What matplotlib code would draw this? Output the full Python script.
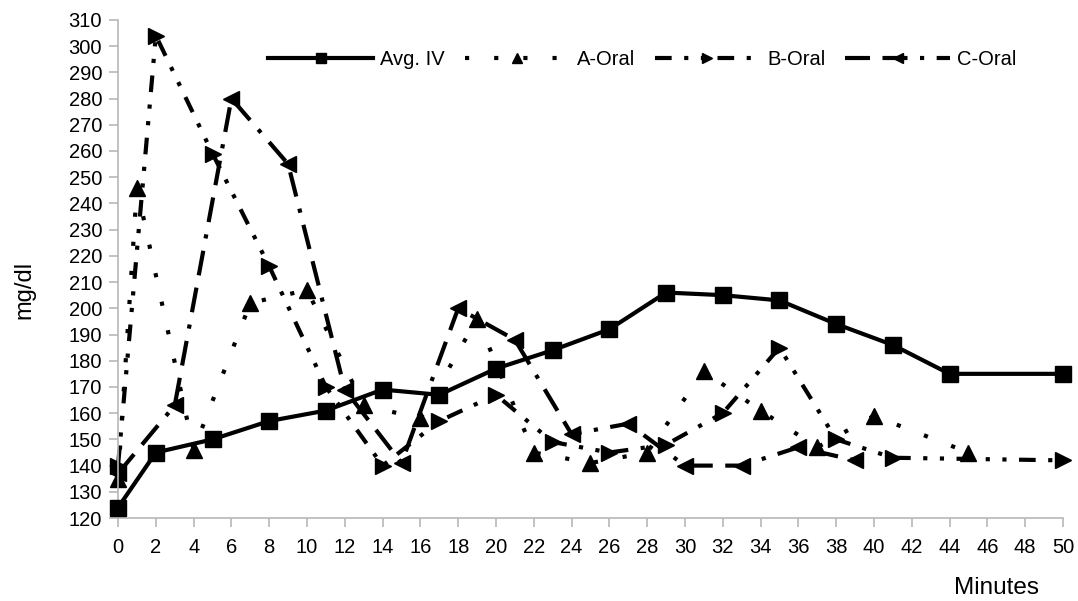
import matplotlib.pyplot as plt

plt.rcParams['font.family'] = ['Liberation Sans', 'DejaVu Sans']

ivMinutes = [0, 2, 5, 8, 11, 14, 17, 20, 23, 26, 29, 32, 35, 38, 41, 44, 50]
ivValues = [124, 145, 150, 157, 161, 169, 167, 177, 184, 192, 206, 205, 203, 194, 186, 175, 175]

aMinutes = [0, 1, 4, 7, 10, 13, 16, 19, 22, 25, 28, 31, 34, 37, 40, 45]
aValues = [135, 246, 146, 202, 207, 163, 158, 196, 145, 141, 145, 176, 161, 147, 159, 145]

bMinutes = [0, 2, 5, 8, 11, 14, 17, 20, 23, 26, 29, 32, 35, 38, 41, 50]
bValues = [140, 304, 259, 216, 170, 140, 157, 167, 149, 145, 148, 160, 185, 150, 143, 142]

cMinutes = [0, 3, 6, 9, 12, 15, 18, 21, 24, 27, 30, 33, 36, 39]
cValues = [137, 163, 280, 255, 169, 141, 200, 188, 152, 156, 140, 140, 147, 142]

xTicks = list(range(0, 51, 2))
yTicks = list(range(120, 311, 10))


def main():
    fig = plt.figure(figsize=(10.78, 6.01), dpi=100)
    ax = fig.add_axes([0.1095, 0.138, 0.8765, 0.829])

    ax.plot(ivMinutes, ivValues, color='black', lw=3, marker='s', ms=11,
            label='Avg. IV', clip_on=False, zorder=5)
    ax.plot(aMinutes, aValues, color='black', lw=3, ls=(0, (1, 6)), marker='^', ms=11,
            label='A-Oral', clip_on=False)
    ax.plot(bMinutes, bValues, color='black', lw=3, ls=(0, (4, 3, 1, 3, 1, 3)), marker='>', ms=11,
            label='B-Oral', clip_on=False)
    ax.plot(cMinutes, cValues, color='black', lw=3, ls=(0, (6, 3, 6, 3, 1, 3)), marker='<', ms=11,
            label='C-Oral', clip_on=False)

    ax.set_xlim(0, 50)
    ax.set_ylim(120, 310)
    ax.set_xticks(xTicks)
    ax.set_yticks(yTicks)
    ax.tick_params(labelsize=14.5, color='#b8b8b8', length=6.5, width=1.2)
    ax.tick_params(axis='x', pad=8)
    ax.tick_params(axis='y', pad=5)
    for side in ['top', 'right']:
        ax.spines[side].set_visible(False)
    for side in ['left', 'bottom']:
        ax.spines[side].set_color('#b8b8b8')
        ax.spines[side].set_linewidth(1.2)

    fig.text(0.023, 0.517, 'mg/dl', rotation=90, fontsize=17, ha='center', va='center')
    fig.text(0.924, 0.0216, 'Minutes', fontsize=17.5, ha='center', va='center')

    ax.legend(loc='center', bbox_to_anchor=(0.555, 0.92), ncol=4, frameon=False,
              fontsize=14.5, handlelength=5.2, columnspacing=1.0, handletextpad=0.35,
              markerscale=0.7, borderpad=0)

    fig.savefig('out.png')
    plt.close(fig)


if __name__ == '__main__':
    main()
